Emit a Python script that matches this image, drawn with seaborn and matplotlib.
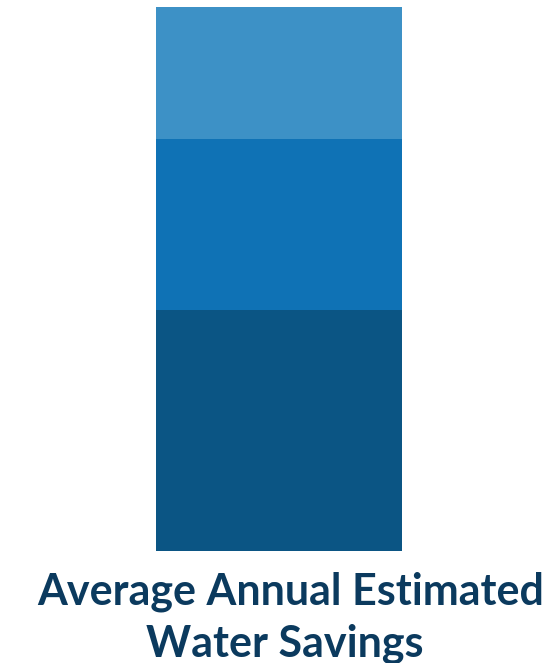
import matplotlib
matplotlib.use("Agg")
import matplotlib.pyplot as plt
import seaborn as sns

# Data
segments = ["Segment 1", "Segment 2", "Segment 3"]
values = [44.2, 31.6, 24.2]          # bottom -> top
colors = ["#0b5584", "#0f72b5", "#3d91c6"]
title_lines = ["Average Annual Estimated", "Water Savings"]

sns.set_theme(style="white")
plt.rcParams['font.family'] = ['Lato', 'DejaVu Sans']

W, H = 559, 663
fig = plt.figure(figsize=(W / 100, H / 100), dpi=100)
ax = fig.add_axes([156 / W, 1 - 550.7 / H, (402 - 156) / W, (550.7 - 7) / H])

bottom = 0.0
for seg, v, c in zip(segments, values, colors):
    sns.barplot(x=["Total"], y=[v], bottom=bottom, color=c, width=1.0,
                saturation=1, linewidth=0, ax=ax)
    bottom += v

ax.set_xlim(-0.5, 0.5)
ax.set_ylim(0, sum(values))
ax.axis("off")

fig.text(291 / W, 1 - 605 / H, title_lines[0], ha="center", va="baseline",
         fontsize=31, fontweight="bold", color="#0b3a5e")
fig.text(285 / W, 1 - 657 / H, title_lines[1], ha="center", va="baseline",
         fontsize=31, fontweight="bold", color="#0b3a5e")

fig.savefig("out.png", dpi=100)
